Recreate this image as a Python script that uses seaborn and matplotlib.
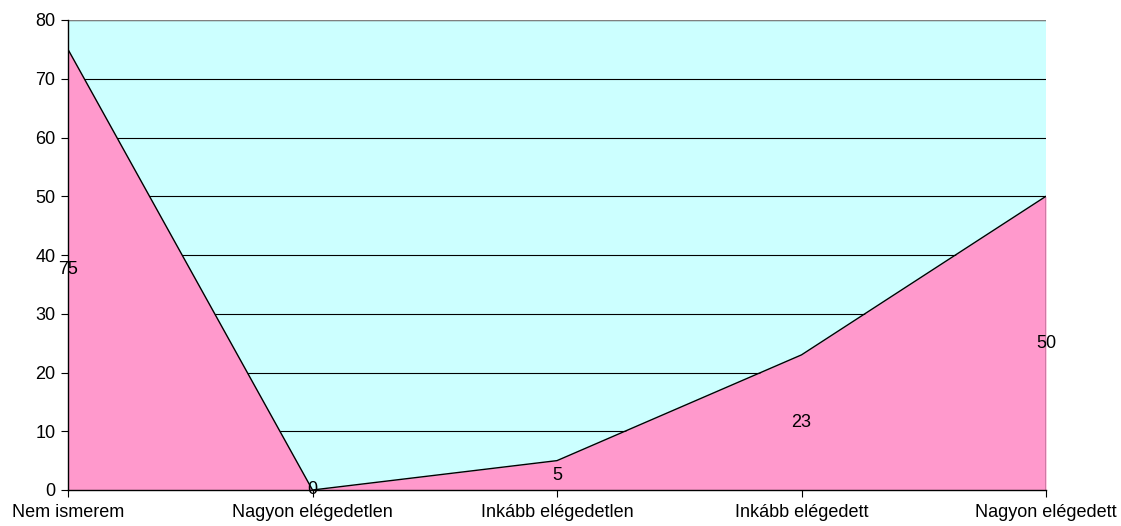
import matplotlib
matplotlib.use("Agg")
import matplotlib.pyplot as plt
import seaborn as sns
import pandas as pd
import numpy as np

categories = ["Nem ismerem", "Nagyon elégedetlen", "Inkább elégedetlen", "Inkább elégedett", "Nagyon elégedett"]
values = [75, 0, 5, 23, 50]
yticks = [0, 10, 20, 30, 40, 50, 60, 70, 80]

sns.set_style("white")
plt.rcParams['font.family'] = ['Liberation Sans', 'DejaVu Sans']
plt.rcParams['text.color'] = 'black'
plt.rcParams['xtick.color'] = 'black'
plt.rcParams['ytick.color'] = 'black'

fig = plt.figure(figsize=(11.21, 5.26), dpi=100)
ax = fig.add_axes([68/1121, 1-490/526, (1046-68)/1121, (490-20)/526])
ax.set_facecolor("#CCFFFF")

x = np.arange(len(categories))
df = pd.DataFrame({"x": x, "v": values})
ax.fill_between(df["x"], 0, df["v"], color="#FF99CC", zorder=2, linewidth=0)
for yv in yticks[1:]:
    ax.axhline(yv, color="#000000", linewidth=0.8, zorder=1)
sns.lineplot(data=df, x="x", y="v", ax=ax, color="black", linewidth=1.0, zorder=3)
ax.plot([x[-1], x[-1]], [0, values[-1]], color="black", linewidth=1.0, zorder=3)

for xi, v in zip(x, values):
    ax.text(xi, v / 2, str(v), ha="center", va="center", fontsize=13, color="black", zorder=4)

ax.set_xlim(0, len(categories) - 1)
ax.set_ylim(0, 80)
ax.set_yticks(yticks)
ax.set_xticks(x)
ax.set_xticklabels(categories, fontsize=13)
ax.tick_params(axis="y", labelsize=13, length=5, direction="out", left=True, width=0.8, color="black", labelcolor="black", pad=4)
ax.tick_params(axis="x", length=5, direction="out", bottom=True, width=0.8, color="black", labelcolor="black", pad=5)
ax.set_xlabel("")
ax.set_ylabel("")
for s in ["top", "right"]:
    ax.spines[s].set_visible(False)
ax.spines["left"].set_color("black")
ax.spines["bottom"].set_color("black")
ax.spines["left"].set_linewidth(1.0)
ax.spines["bottom"].set_linewidth(1.0)
ax.spines["left"].set_zorder(5)
ax.spines["bottom"].set_zorder(5)
ax.axhline(80, color="#808080", linewidth=1.0, zorder=1)

fig.savefig("out.png", dpi=100)
